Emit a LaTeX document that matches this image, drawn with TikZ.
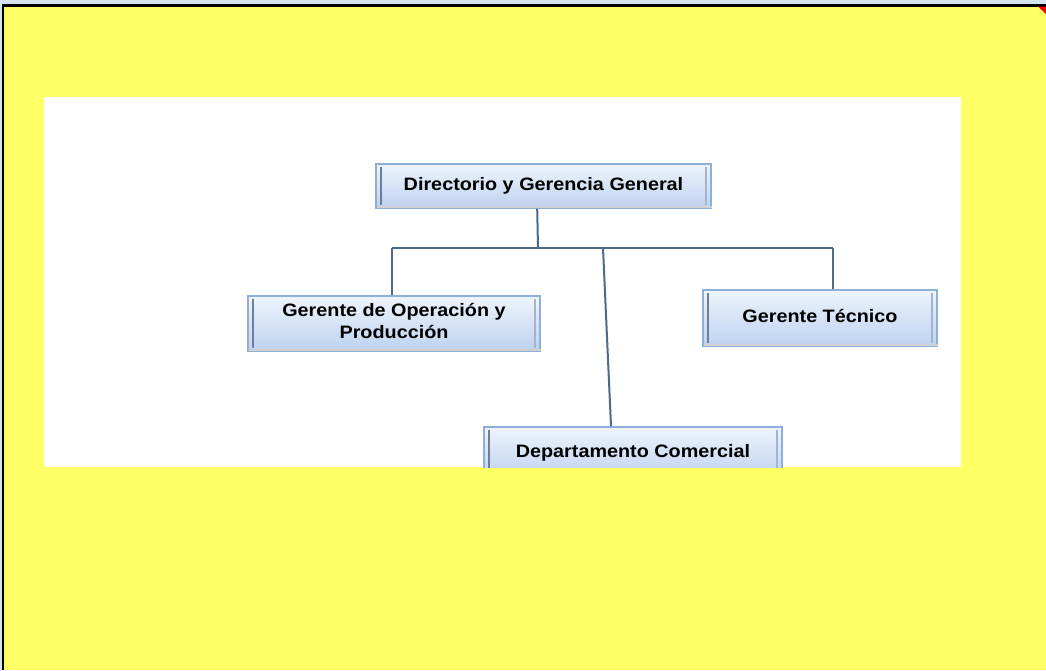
\documentclass[tikz,border=0pt]{standalone}
\usepackage{fontspec}
\setmainfont{Liberation Sans}
\usetikzlibrary{calc}
\definecolor{bgyellow}{HTML}{FFFF66}
\definecolor{stripblue}{HTML}{D5E5EF}
\definecolor{boxedge}{HTML}{8EAEDB}
\definecolor{boxtop}{HTML}{EEF4FC}
\definecolor{boxbot}{HTML}{BDD2F0}
\definecolor{barleft}{HTML}{6F7F98}
\definecolor{barright}{HTML}{A4B4CC}
\definecolor{linkcol}{HTML}{4E6A89}
\newcommand{\orglbl}[1]{\raisebox{-2.5pt}{\scalebox{1.1}[1]{\begin{tabular}{@{}c@{}}#1\end{tabular}}}}
\begin{document}
\begin{tikzpicture}[x=1pt,y=-1pt,
  orgbox/.style={draw=boxedge, line width=1.6pt, top color=boxtop, bottom color=boxbot,
    inner sep=0pt, font=\fontsize{18}{22}\selectfont\bfseries, text=black},
  innerbarL/.style={draw=barleft, line width=2pt},
  innerbarR/.style={draw=barright, line width=1.6pt},
  link/.style={draw=linkcol, line width=2pt},
  shadowline/.style={draw=black!18, line width=2pt}]
\useasboundingbox (0,0) rectangle (1046,670);
% page background
\fill[stripblue] (0,0) rectangle (1046,670);
\fill[bgyellow] (4,6) rectangle (1046,670);
\draw[black, line width=2.2pt] (3,670) -- (3,5.5) -- (1046,5.5);
\fill[red] (1038,6.5) -- (1046,6.5) -- (1046,14) -- cycle;
% white picture area
\fill[white] (44,97) rectangle (961,467);
\begin{scope}
\clip (44,97) rectangle (961,467);
% boxes
\node[orgbox, minimum width=335pt, minimum height=44pt] (dir) at (543.5,186) {\orglbl{Directorio y Gerencia General}};
\node[orgbox, minimum width=292pt, minimum height=55pt] (gop) at (394,323.5) {\orglbl{Gerente de Operación y\\Producción}};
\node[orgbox, minimum width=234pt, minimum height=56pt] (gtec) at (820,318) {\orglbl{Gerente Técnico}};
\node[orgbox, minimum width=298pt, minimum height=52pt] (dcom) at (633,453) {\orglbl{Departamento Comercial}};
% inner bars
\foreach \n in {dir,gop,gtec,dcom}{
  \draw[innerbarL] ([xshift=6pt,yshift=-4pt]\n.north west) -- ([xshift=6pt,yshift=4pt]\n.south west);
  \draw[innerbarR] ([xshift=-6pt,yshift=-4pt]\n.north east) -- ([xshift=-6pt,yshift=4pt]\n.south east);
  \draw[shadowline] ([xshift=2pt,yshift=2pt]\n.south west) -- ([xshift=0pt,yshift=2pt]\n.south east);
}
% connectors
\coordinate (dsrc) at ($(dir.south west)+(162pt,0)$);
\coordinate (hub) at (538,248);
\coordinate (hl) at (392,248);
\coordinate (hr) at (833,248);
\coordinate (hm) at (603,248);
\draw[link] (dsrc) -- (hub);
\draw[link] (hl) -- (hr);
\draw[link] (hl) -- (hl |- gop.north);
\draw[link] (hr) -- (hr |- gtec.north);
\draw[link] (hm) -- (dcom.north -| 611,0);
\end{scope}
\end{tikzpicture}
\end{document}
